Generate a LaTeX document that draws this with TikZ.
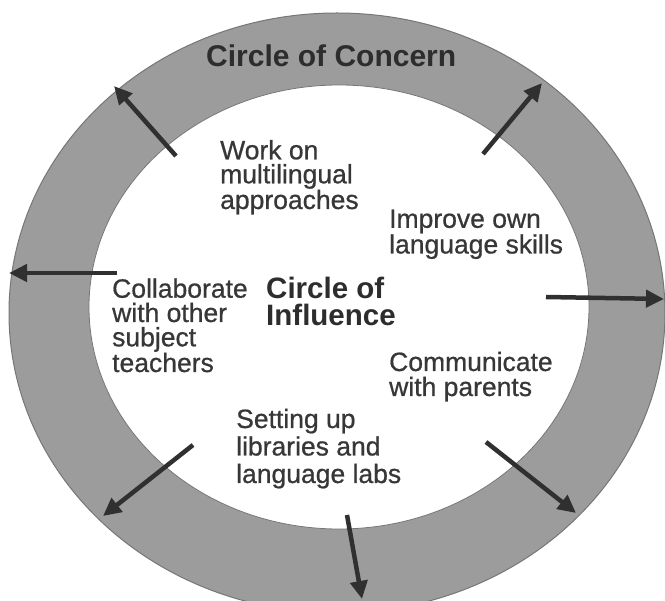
\documentclass[tikz,border=0pt]{standalone}
\usepackage{fontspec}
\setmainfont{Liberation Sans}
\newfontfamily\heavyfont[FakeBold=0.7]{Liberation Sans}
\usetikzlibrary{arrows.meta,shapes.geometric}
\definecolor{ringgray}{RGB}{156,156,156}
\definecolor{ringedge}{RGB}{118,118,118}
\definecolor{inkgray}{RGB}{55,55,55}
\definecolor{titlegray}{RGB}{45,45,45}
\definecolor{arrowgray}{RGB}{48,48,48}
\begin{document}
\begin{tikzpicture}[x=1pt,y=-1pt,
  lbl/.style={inner sep=0pt, anchor=base west, align=left, text=inkgray},
  ttl/.style={inner sep=0pt, anchor=base west, align=left, text=titlegray},
  outarrow/.style={draw=arrowgray, line width=4.5pt, -{Triangle[length=18pt,width=17pt]}},
]
\useasboundingbox (0,0) rectangle (665,601);
\fill[white] (0,0) rectangle (665,601);
\begin{scope}
  \clip (0,0) rectangle (665,601);
  \node[ellipse, draw=ringedge, line width=1pt, fill=ringgray,
        minimum width=656pt, minimum height=600pt, inner sep=0pt, outer sep=0pt]
        (concern) at (337,313) {};
  \node[ellipse, draw=ringedge, line width=0.8pt, fill=white,
        minimum width=500pt, minimum height=444pt, inner sep=0pt, outer sep=0pt]
        (influence) at (339,307) {};
\end{scope}

% titles (anchor = baseline of the last line)
\node[ttl, font={\bfseries\fontsize{30}{26}\selectfont}] (concerntitle) at (206,67) {Circle of Concern};
\node[ttl, font={\bfseries\fontsize{29.5}{27}\selectfont}] (influencetitle) at (266,326) {Circle of\\Influence};

% labels (anchor = baseline of the last line)
\node[lbl, font={\heavyfont\fontsize{26.5}{24}\selectfont}] (work) at (220,209) {Work on\\multilingual\\approaches};
\node[lbl, font={\heavyfont\fontsize{26.5}{23.5}\selectfont}] (improve) at (389,253.5) {Improve own\\language skills};
\node[lbl, font={\heavyfont\fontsize{26.5}{24.3}\selectfont}] (collab) at (112,372) {Collaborate\\with other\\subject\\teachers};
\node[lbl, font={\heavyfont\fontsize{26.5}{25}\selectfont}] (communicate) at (389,396) {Communicate\\with parents};
\node[lbl, font={\heavyfont\fontsize{26.5}{27.5}\selectfont}] (setting) at (236,483) {Setting up\\libraries and\\language labs};

% arrows
\coordinate (t1) at (176,156); \coordinate (h1) at (114,86);
\coordinate (t2) at (483,154); \coordinate (h2) at (542,83);
\coordinate (t3) at (117,273); \coordinate (h3) at (9,273);
\coordinate (t4) at (546,297); \coordinate (h4) at (664,299);
\coordinate (t5) at (486,442); \coordinate (h5) at (576,513);
\coordinate (t6) at (347,515); \coordinate (h6) at (362,599);
\coordinate (t7) at (193,445); \coordinate (h7) at (103,516);
\draw[outarrow] (t1) -- (h1);
\draw[outarrow] (t2) -- (h2);
\draw[outarrow] (t3) -- (h3);
\draw[outarrow] (t4) -- (h4);
\draw[outarrow] (t5) -- (h5);
\draw[outarrow] (t6) -- (h6);
\draw[outarrow] (t7) -- (h7);
\end{tikzpicture}
\end{document}
